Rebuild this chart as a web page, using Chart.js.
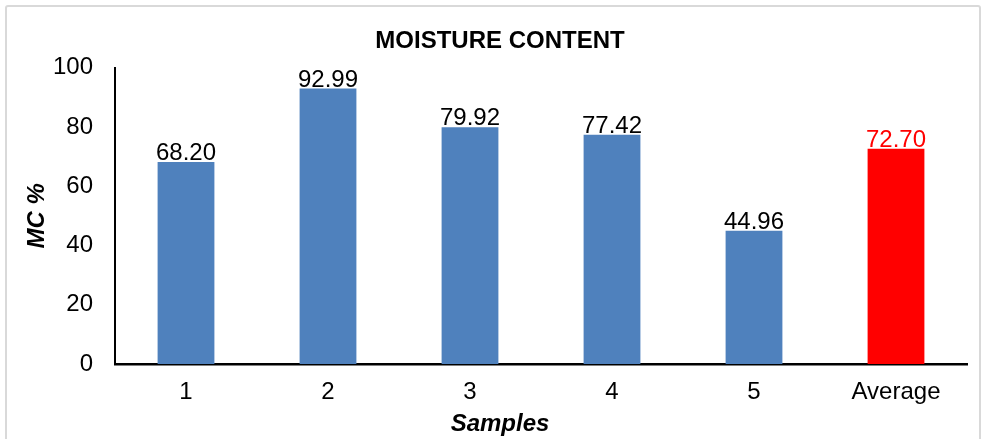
<!DOCTYPE html>
<html>
<head>
<meta charset="utf-8">
<script src="https://cdn.jsdelivr.net/npm/chart.js@4/dist/chart.umd.min.js"></script>
<style>
  html, body { margin: 0; padding: 0; background: #fff; overflow: hidden; }
  #frame {
    position: absolute; left: 5px; top: 5px; width: 976px; height: 460px;
    border: 2px solid #d9d9d9; border-radius: 3px; box-sizing: border-box;
    pointer-events: none;
  }
  canvas { position: absolute; left: 0; top: 0; }
</style>
</head>
<body>
<canvas id="mcChart" width="985" height="439"></canvas>
<div id="frame"></div>
<script>
  // data
  const categories = ['1', '2', '3', '4', '5', 'Average'];
  const moisture = [68.20, 92.99, 79.92, 77.42, 44.96, 72.70];
  const barColors = ['#4F81BD', '#4F81BD', '#4F81BD', '#4F81BD', '#4F81BD', '#FF0000'];
  const labelColors = ['#000', '#000', '#000', '#000', '#000', '#FF0000'];
  const yTicks = [0, 20, 40, 60, 80, 100];
  const xTitle = 'Samples';

  const FONT = '"Liberation Sans", Arial, sans-serif';
  Chart.defaults.font.family = FONT;
  Chart.defaults.color = '#000';

  // value labels above each bar + x axis title centred under the chart title
  const valueLabels = {
    id: 'valueLabels',
    afterDatasetsDraw(chart) {
      const ctx = chart.ctx;
      const meta = chart.getDatasetMeta(0);
      ctx.save();
      ctx.font = '24px ' + FONT;
      ctx.textAlign = 'center';
      ctx.textBaseline = 'alphabetic';
      meta.data.forEach(function (bar, i) {
        ctx.fillStyle = labelColors[i];
        ctx.fillText(moisture[i].toFixed(2), bar.x, bar.y - 2);
      });
      ctx.restore();
    },
    afterDraw(chart) {
      const ctx = chart.ctx;
      const tb = chart.titleBlock;
      const xs = chart.scales.x;
      ctx.save();
      ctx.font = 'italic bold 24px ' + FONT;
      ctx.fillStyle = '#000';
      ctx.textAlign = 'center';
      ctx.textBaseline = 'middle';
      ctx.fillText(xTitle, (tb.left + tb.right) / 2, xs.bottom - 14.4);
      ctx.restore();
    }
  };

  const ctx = document.getElementById('mcChart').getContext('2d');
  new Chart(ctx, {
    type: 'bar',
    data: {
      labels: categories,
      datasets: [{
        label: 'MC %',
        data: moisture,
        backgroundColor: barColors,
        borderWidth: 0,
        categoryPercentage: 1,
        barPercentage: 0.4
      }]
    },
    options: {
      responsive: false,
      animation: false,
      layout: { padding: { left: 33, right: 18, top: 27, bottom: 0 } },
      plugins: {
        legend: { display: false },
        tooltip: { enabled: false },
        title: {
          display: true,
          text: 'MOISTURE CONTENT',
          color: '#000',
          font: { size: 24, weight: 'bold' },
          padding: { top: 0, bottom: 12 }
        }
      },
      scales: {
        x: {
          grid: { display: false, drawTicks: false },
          border: { display: true, color: '#000', width: 2.5 },
          ticks: { padding: 14, font: { size: 24 }, color: '#000' },
          title: { display: false },
          afterFit(axis) {
            axis.height = 75;
          }
        },
        y: {
          min: 0,
          max: 100,
          afterBuildTicks(axis) {
            axis.ticks = yTicks.map(v => ({ value: v }));
          },
          grid: { display: false, drawTicks: false },
          border: { display: true, color: '#000', width: 2 },
          ticks: { padding: 22, font: { size: 24 }, color: '#000' },
          title: {
            display: true,
            text: 'MC %',
            color: '#000',
            font: { size: 24, weight: 'bold', style: 'italic' },
            padding: { top: -10, bottom: 4 }
          },
          afterFit(axis) {
            axis.width = 82;
          }
        }
      }
    },
    plugins: [valueLabels]
  });
</script>
</body>
</html>
